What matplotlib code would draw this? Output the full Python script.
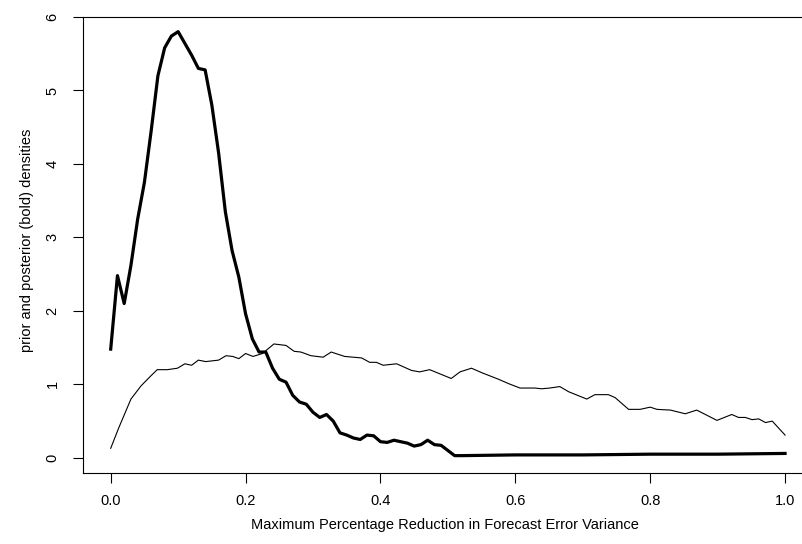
import numpy as np
import matplotlib
matplotlib.use("Agg")
import matplotlib.pyplot as plt

plt.rcParams['font.family'] = ['Liberation Sans', 'DejaVu Sans']

# posterior density (bold curve)
post_x = [0.00, 0.01, 0.02, 0.03, 0.04, 0.05, 0.06, 0.07, 0.08, 0.09,
          0.10, 0.11, 0.12, 0.13, 0.14, 0.15, 0.16, 0.17, 0.18, 0.19,
          0.20, 0.21, 0.22, 0.23, 0.24, 0.25, 0.26, 0.27, 0.28, 0.29,
          0.30, 0.31, 0.32, 0.33, 0.34, 0.35, 0.36, 0.37, 0.38, 0.39,
          0.40, 0.41, 0.42, 0.43, 0.44, 0.45, 0.46, 0.47, 0.48, 0.49,
          0.50, 0.51, 0.52, 0.60, 0.70, 0.80, 0.90, 1.00]
post_y = [1.48, 2.48, 2.10, 2.62, 3.25, 3.75, 4.45, 5.20, 5.58, 5.74,
          5.80, 5.64, 5.48, 5.30, 5.28, 4.80, 4.15, 3.35, 2.82, 2.46,
          1.96, 1.62, 1.44, 1.44, 1.22, 1.07, 1.03, 0.85, 0.76, 0.73,
          0.62, 0.55, 0.59, 0.50, 0.34, 0.31, 0.27, 0.25, 0.31, 0.30,
          0.22, 0.21, 0.24, 0.22, 0.20, 0.16, 0.18, 0.24, 0.18, 0.17,
          0.10, 0.03, 0.03, 0.04, 0.04, 0.05, 0.05, 0.06]

# prior density (thin curve)
prior_x = [0.000, 0.012, 0.030, 0.045, 0.060, 0.069, 0.084, 0.099, 0.110, 0.120,
           0.130, 0.141, 0.160, 0.171, 0.181, 0.190, 0.200, 0.211, 0.225, 0.242,
           0.260, 0.272, 0.282, 0.297, 0.315, 0.327, 0.347, 0.372, 0.384, 0.394,
           0.404, 0.424, 0.446, 0.458, 0.473, 0.505, 0.518, 0.535, 0.550, 0.575,
           0.590, 0.607, 0.629, 0.639, 0.651, 0.666, 0.679, 0.706, 0.718, 0.738,
           0.748, 0.768, 0.785, 0.800, 0.810, 0.830, 0.852, 0.869, 0.899, 0.921,
           0.931, 0.941, 0.951, 0.961, 0.971, 0.981, 1.000]
prior_y = [0.13, 0.41, 0.80, 0.98, 1.12, 1.20, 1.20, 1.22, 1.28, 1.26,
           1.33, 1.31, 1.33, 1.39, 1.38, 1.35, 1.42, 1.38, 1.42, 1.55,
           1.53, 1.45, 1.44, 1.39, 1.37, 1.44, 1.38, 1.36, 1.30, 1.30,
           1.26, 1.28, 1.19, 1.17, 1.20, 1.08, 1.17, 1.22, 1.16, 1.07,
           1.01, 0.95, 0.95, 0.94, 0.95, 0.97, 0.90, 0.80, 0.86, 0.86,
           0.82, 0.66, 0.66, 0.69, 0.66, 0.65, 0.60, 0.65, 0.51, 0.59,
           0.55, 0.55, 0.52, 0.53, 0.48, 0.50, 0.31]

x_ticks = [0.0, 0.2, 0.4, 0.6, 0.8, 1.0]
y_ticks = [0, 1, 2, 3, 4, 5, 6]

fig = plt.figure(figsize=(8.02, 5.44), dpi=100)
ax = fig.add_axes([0.1039, 0.130, 0.9086, 0.8388])

ax.plot(prior_x, prior_y, color='black', linewidth=0.8)
ax.plot(post_x, post_y, color='black', linewidth=2.3, solid_joinstyle='round')

ax.set_xlim(-0.0406, 1.04)
ax.set_ylim(-0.21, 6.0)

ax.set_xticks(x_ticks)
ax.set_xticklabels(['%.1f' % v for v in x_ticks])
ax.set_yticks(y_ticks)
ax.set_yticklabels([str(v) for v in y_ticks], rotation=90, va='center')

ax.tick_params(axis='both', direction='out', length=7, width=0.8,
               labelsize=10.5, colors='black')
ax.tick_params(axis='x', pad=8)
ax.tick_params(axis='y', pad=10)

# the box runs past the right edge, so no right border is shown
for side in ['left', 'bottom', 'top']:
    ax.spines[side].set_linewidth(0.8)
    ax.spines[side].set_color('black')
ax.spines['right'].set_visible(False)

fig.text(445 / 802, 1 - 525 / 544,
         'Maximum Percentage Reduction in Forecast Error Variance',
         ha='center', va='center', fontsize=10.5)
fig.text(27 / 802, 1 - 240 / 544, 'prior and posterior (bold) densities',
         ha='center', va='center', rotation=90, fontsize=10.5)

fig.savefig('out.png', dpi=100)
